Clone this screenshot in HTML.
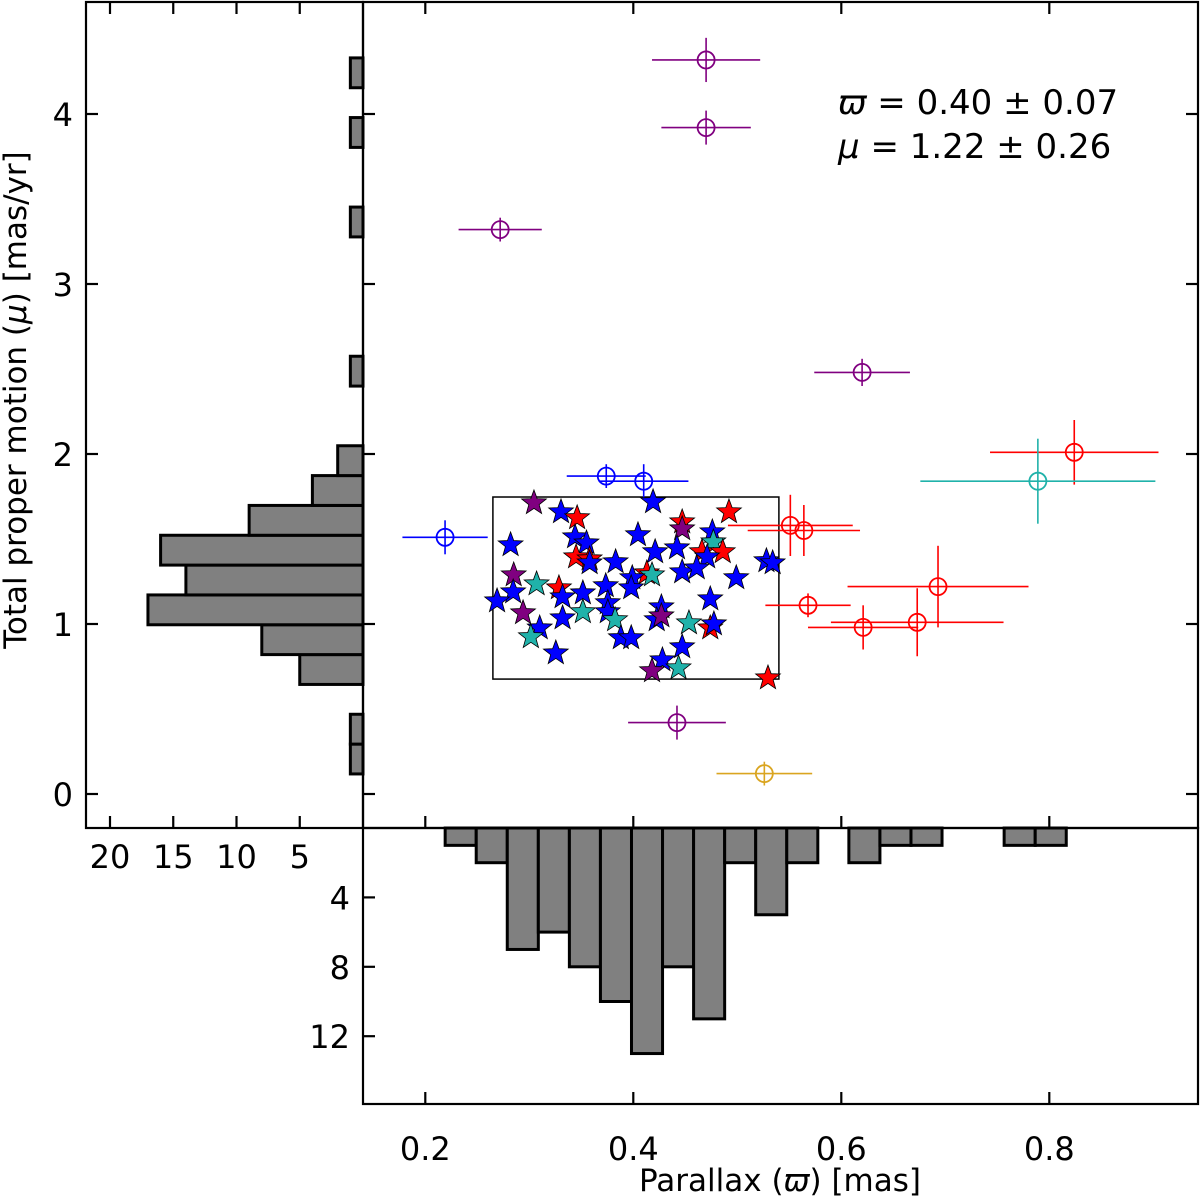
<!DOCTYPE html>
<html><head><meta charset="utf-8">
<style>
html,body{margin:0;padding:0;background:#fff;}
svg{display:block;font-family:"DejaVu Sans","Liberation Sans",sans-serif;}
</style></head>
<body>
<svg id="chart" width="1200" height="1197" viewBox="0 0 1200 1197" xmlns="http://www.w3.org/2000/svg">
<g id="frames"></g>
</svg>
<script>
// ---- Data ----
const pxBinStart = 0.2191;
const pxBinWidth = 0.02986;
const pxCounts = [1,2,7,6,8,10,13,8,11,2,5,2,0,2,1,1,0,0,1,1];
const muBinStart = 0.118;
const muBinWidth = 0.1755;
const muCounts = [1,1,0,5,8,17,14,16,9,4,2,0,0,1,0,0,0,0,1,0,0,1,0,1];
const epX    = [0.470,0.470,0.272,0.620,0.824,0.789,0.374,0.410,0.219,0.551,0.564,0.568,0.693,0.621,0.673,0.442,0.526];
const epY    = [4.318,3.920,3.320,2.480,2.010,1.840,1.870,1.840,1.510,1.580,1.550,1.110,1.220,0.980,1.010,0.420,0.120];
const epXerr = [0.052,0.043,0.040,0.046,0.081,0.113,0.038,0.043,0.041,0.060,0.054,0.041,0.087,0.053,0.083,0.047,0.046];
const epYerr = [0.13,0.10,0.07,0.08,0.19,0.25,0.07,0.10,0.10,0.18,0.15,0.07,0.24,0.13,0.20,0.10,0.07];
const epCol  = ["purple","purple","purple","purple","red","cyan","blue","blue","blue","red","red","red","red","red","red","purple","orange"];
const stX = [0.3045,0.3305,0.346,0.419,0.492,0.447,0.447,0.476,0.282,0.344,0.355,0.4045,0.421,0.442,0.477,0.466,0.486,0.471,0.345,0.358,0.358,0.383,0.528,0.534,0.285,0.447,0.461,0.413,0.418,0.399,0.499,0.307,0.3285,0.2845,0.332,0.3515,0.3735,0.398,0.269,0.474,0.3755,0.294,0.3515,0.3755,0.3825,0.332,0.427,0.4225,0.427,0.4535,0.474,0.4775,0.310,0.3015,0.388,0.398,0.3255,0.447,0.428,0.418,0.4435,0.5295];
const stY = [1.712,1.659,1.624,1.718,1.659,1.600,1.559,1.541,1.465,1.512,1.476,1.524,1.424,1.447,1.482,1.424,1.424,1.394,1.394,1.382,1.359,1.365,1.371,1.359,1.288,1.306,1.329,1.300,1.288,1.271,1.271,1.235,1.212,1.188,1.159,1.182,1.224,1.212,1.135,1.147,1.124,1.065,1.071,1.071,1.024,1.035,1.100,1.024,1.047,1.006,0.976,1.000,0.976,0.924,0.918,0.918,0.829,0.865,0.788,0.724,0.741,0.682];
const stC = ["purple","blue","red","blue","red","red","purple","blue","blue","blue","blue","blue","blue","blue","cyan","red","red","blue","red","red","blue","blue","blue","blue","purple","blue","blue","red","cyan","blue","blue","cyan","red","blue","blue","blue","blue","blue","blue","blue","blue","purple","cyan","blue","cyan","blue","blue","blue","purple","cyan","red","blue","blue","cyan","blue","blue","blue","blue","blue","purple","cyan","red"];
const boxX = [0.265,0.540];
const boxY = [0.676,1.747];
const xTicks = [0.2,0.4,0.6,0.8];
const xTickLabels = ["0.2","0.4","0.6","0.8"];
const yTicks = [0,1,2,3,4];
const yTickLabels = ["0","1","2","3","4"];
const lhTicks = [20,15,10,5];
const lhTickLabels = ["20","15","10","5"];
const bhTicks = [4,8,12];
const bhTickLabels = ["4","8","12"];

// ---- Scales ----
const X0=363, X1=1198, Y0=2, Y1=828, LHX=86, BHY=1104;
function xs(v){return 425.3+(v-0.2)*1040;}
function ys(v){return 794-v*170;}
function lhs(c){return 363-c*12.65;}
function bhs(c){return 828+c*17.35;}
const colorMap={purple:"#800080",red:"#ff0000",cyan:"#20b2aa",blue:"#0000ff",orange:"#daa520"};

const NS="http://www.w3.org/2000/svg";
const svg=document.getElementById('chart');
function mk(tag,attrs,parent){const e=document.createElementNS(NS,tag);for(const k in attrs)e.setAttribute(k,attrs[k]);(parent||svg).appendChild(e);return e;}

const gB=mk('g',{});


pxCounts.forEach((c,i)=>{
  if(!c)return;
  const x0=xs(pxBinStart+i*pxBinWidth), x1=xs(pxBinStart+(i+1)*pxBinWidth);
  const r=mk('rect',{x:x0,y:828,width:x1-x0,height:bhs(c)-828,fill:"#808080",stroke:"#000","stroke-width":3},gB);
  
  
});
const gL=mk('g',{});


muCounts.forEach((c,i)=>{
  if(!c)return;
  const y0=ys(muBinStart+(i+1)*muBinWidth), y1=ys(muBinStart+i*muBinWidth);
  const r=mk('rect',{x:lhs(c),y:y0,width:363-lhs(c),height:y1-y0,fill:"#808080",stroke:"#000","stroke-width":3},gL);
  
  
});

const bx=mk('rect',{x:xs(boxX[0]),y:ys(boxY[1]),width:xs(boxX[1])-xs(boxX[0]),height:ys(boxY[0])-ys(boxY[1]),fill:"none",stroke:"#000","stroke-width":1.5});



epX.forEach((v,i)=>{
  const g=mk('g',{});
  
  
  const col=colorMap[epCol[i]], cx=xs(v), cy=ys(epY[i]);
  mk('line',{x1:xs(v-epXerr[i]),x2:xs(v+epXerr[i]),y1:cy,y2:cy,stroke:col,"stroke-width":1.6},g);
  mk('line',{x1:cx,x2:cx,y1:ys(epY[i]-epYerr[i]),y2:ys(epY[i]+epYerr[i]),stroke:col,"stroke-width":1.6},g);
  mk('circle',{cx:cx,cy:cy,r:8.5,fill:"none",stroke:col,"stroke-width":1.8},g);
});

function starPath(cx,cy,R,r){let d="";for(let k=0;k<10;k++){const a=-Math.PI/2+k*Math.PI/5;const rr=k%2?r:R;d+=(k?"L":"M")+(cx+rr*Math.cos(a)).toFixed(2)+","+(cy+rr*Math.sin(a)).toFixed(2);}return d+"Z";}
stX.forEach((v,i)=>{
  const s=mk('path',{d:starPath(xs(v),ys(stY[i]),13,5.4),fill:colorMap[stC[i]],stroke:"#000","stroke-width":0.8});
  
  
});

const fr=mk('g',{fill:"none",stroke:"#000","stroke-width":2.2});


mk('rect',{x:X0,y:Y0,width:X1-X0,height:Y1-Y0},fr);
mk('rect',{x:LHX,y:Y0,width:X0-LHX,height:Y1-Y0},fr);
mk('rect',{x:X0,y:Y1,width:X1-X0,height:BHY-Y1},fr);
const T=12;
xTicks.forEach(v=>{const x=xs(v);
  mk('line',{x1:x,x2:x,y1:Y0,y2:Y0+T},fr);mk('line',{x1:x,x2:x,y1:Y1,y2:Y1-T},fr);
  mk('line',{x1:x,x2:x,y1:BHY,y2:BHY-T},fr);});
yTicks.forEach(v=>{const y=ys(v);
  mk('line',{x1:X0,x2:X0+T,y1:y,y2:y},fr);mk('line',{x1:X1,x2:X1-T,y1:y,y2:y},fr);
  mk('line',{x1:LHX,x2:LHX+T,y1:y,y2:y},fr);});
lhTicks.forEach(v=>{const x=lhs(v);
  mk('line',{x1:x,x2:x,y1:Y0,y2:Y0+T},fr);mk('line',{x1:x,x2:x,y1:Y1,y2:Y1-T},fr);});
bhTicks.forEach(v=>{const y=bhs(v);mk('line',{x1:X0,x2:X0+T,y1:y,y2:y},fr);});

const tl=mk('g',{"font-size":"32",fill:"#000"});


xTicks.forEach((v,i)=>{const t=mk('text',{x:xs(v),y:1160,"text-anchor":"middle"},tl);t.textContent=xTickLabels[i];
  
  });
yTicks.forEach((v,i)=>{const t=mk('text',{x:73,y:ys(v)+12,"text-anchor":"end"},tl);t.textContent=yTickLabels[i];
  
  });
lhTicks.forEach((v,i)=>{const t=mk('text',{x:lhs(v),y:868,"text-anchor":"middle"},tl);t.textContent=lhTickLabels[i];
  
  });
bhTicks.forEach((v,i)=>{const t=mk('text',{x:350,y:bhs(v)+12,"text-anchor":"end"},tl);t.textContent=bhTickLabels[i];
  
  });
</script>
<svg style="position:absolute;left:0;top:0" width="1200" height="1197" viewBox="0 0 1200 1197" xmlns="http://www.w3.org/2000/svg" font-family="DejaVu Sans, Liberation Sans, sans-serif">
<text x="780" y="1191" font-size="31" text-anchor="middle">Parallax (<tspan font-style="italic">ϖ</tspan>) [mas]</text>
<text transform="translate(26,400) rotate(-90)" font-size="31" text-anchor="middle">Total proper motion (<tspan font-style="italic">μ</tspan>) [mas/yr]</text>
<text x="838" y="114" font-size="34"><tspan font-style="italic">ϖ</tspan> = 0.40 ± 0.07</text>
<text x="838" y="158" font-size="34"><tspan font-style="italic">μ</tspan> = 1.22 ± 0.26</text>
</svg>
</body></html>
